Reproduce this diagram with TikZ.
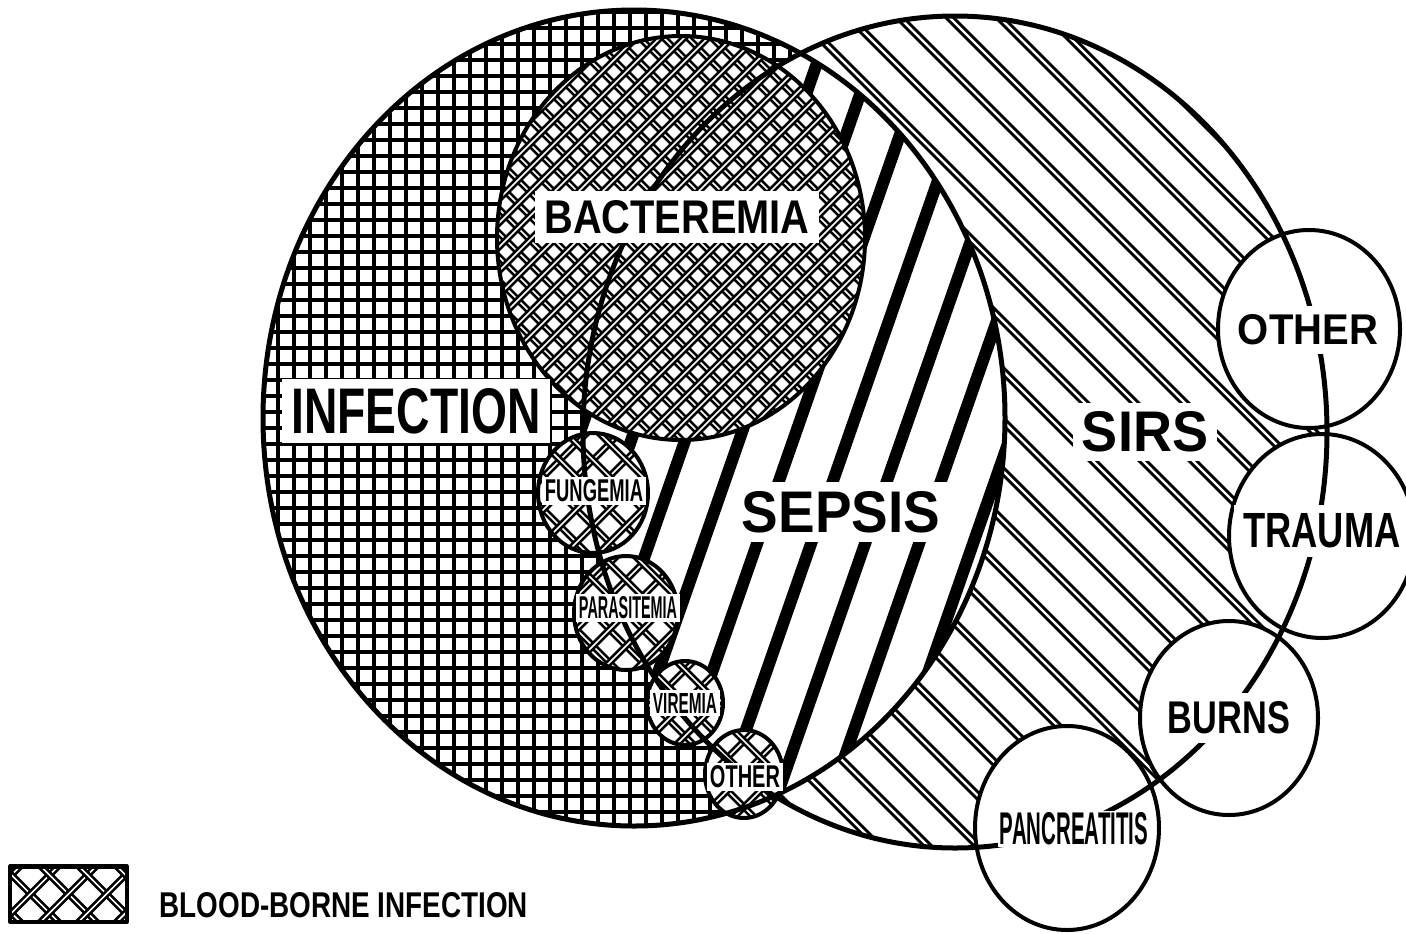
\documentclass[tikz,border=0pt]{standalone}
\usepackage{fontspec}
\setsansfont{Liberation Sans}
\usepackage{graphicx}
\usepackage{tikz}
\usetikzlibrary{positioning}
\tikzset{
  venn/.style={x=0.01cm, y=-0.01cm, line cap=round, line join=round},
  venn outline/.style={draw=black, line width=0.05cm},
  member outline/.style={draw=black, line width=0.04cm},
  grid line/.style={draw=black, line width=0.048cm},
  sepsis stripe/.style={draw=black, line width=0.12cm, line cap=butt},
  sirs pair/.style={draw=black, line width=0.03cm, double=white,
    double distance=0.022cm},
  blood pair/.style={draw=black, line width=0.026cm, double=white,
    double distance=0.017cm},
  venn label/.style={fill=white, inner sep=0.09cm, font=\sffamily\bfseries},
  small label/.style={venn label, inner sep=0.03cm}
}
% stretch a label to the size it has in the figure (width, height in cm)
\newcommand{\sizedtext}[3]{\resizebox{#1cm}{#2cm}{#3}}

\begin{document}
\begin{tikzpicture}[venn]
\useasboundingbox (0,0) rectangle (1406,933);
% SIRS: paired thin lines
\begin{scope}
  \clip (955,432) ellipse [x radius=372, y radius=416];
  \foreach \a in {-268,-218,...,1332}
    \draw[sirs pair] (\a,0) -- ++(900,900);
\end{scope}
% infection: square grid
\begin{scope}
  \clip (634,418) ellipse [x radius=371, y radius=408];
  \fill[white] (250,0) rectangle (1010,840);
  \foreach \gx in {262,278,...,1006}
    \draw[grid line] (\gx,0) -- (\gx,840);
  \foreach \gy in {12,28,...,828}
    \draw[grid line] (250,\gy) -- (1010,\gy);
\end{scope}
% sepsis: heavy stripes where both overlap
\begin{scope}
  \clip (634,418) ellipse [x radius=371, y radius=408];
  \clip (955,432) ellipse [x radius=372, y radius=416];
  \fill[white] (550,0) rectangle (1010,850);
  \foreach \sx in {272,326,...,1082}
    \draw[sepsis stripe] (\sx,850) -- ++(297,-850);
\end{scope}
% bacteremia: double crosshatch
\begin{scope}
  \clip (681,238) ellipse [x radius=184, y radius=202];
  \fill[white] (490,30) rectangle (870,445);
  \foreach \bx in {50,74,...,1310} {
    \draw[blood pair] (\bx,0) -- ++(460,460);
    \draw[blood pair] (\bx,0) -- ++(-460,460);
  }
\end{scope}
\draw[member outline] (681,238) ellipse [x radius=184, y radius=202];
% smaller blood-borne circles
\foreach \cx/\cy/\rx/\ry in {593/493/55/60, 626/613/52/57, 685/703/38/42, 744/774/39/44} {
  \begin{scope}
    \clip (\cx,\cy) ellipse [x radius=\rx, y radius=\ry];
    \fill[white] (\cx-70,\cy-70) rectangle (\cx+70,\cy+70);
    \foreach \k in {-5,...,5} {
      \draw[blood pair] (\cx+\k*33-80,\cy-80) -- ++(160,160);
      \draw[blood pair] (\cx+\k*33+80,\cy-80) -- ++(-160,160);
    }
  \end{scope}
  \draw[member outline] (\cx,\cy) ellipse [x radius=\rx, y radius=\ry];
}
% causes of SIRS
\foreach \cx/\cy/\rx/\ry in {1309/329/91/99, 1322/536/93/102, 1229/718/89/97, 1067/828/92/102}
  \fill[white] (\cx,\cy) ellipse [x radius=\rx, y radius=\ry];
\foreach \cx/\cy/\rx/\ry in {1309/329/91/99, 1322/536/93/102, 1229/718/89/97, 1067/828/92/102}
  \draw[member outline] (\cx,\cy) ellipse [x radius=\rx, y radius=\ry];
% the two main sets
\draw[venn outline] (634,418) ellipse [x radius=371, y radius=408];
\draw[venn outline] (955,432) ellipse [x radius=372, y radius=416];
% labels
\node[venn label] (infection) at (416,411) {\sizedtext{2.49}{0.45}{INFECTION}};
\node[venn label] (bacteremia) at (677,217) {\sizedtext{2.65}{0.33}{BACTEREMIA}};
\node[venn label] (sepsis) at (841,512) {\sizedtext{1.98}{0.41}{SEPSIS}};
\node[venn label] (sirs) at (1145,432) {\sizedtext{1.26}{0.40}{SIRS}};
\node[venn label] (other) at (1308,330) {\sizedtext{1.40}{0.30}{OTHER}};
\node[venn label] (trauma) at (1322,531) {\sizedtext{1.57}{0.34}{TRAUMA}};
\node[venn label] (burns) at (1229,718) {\sizedtext{1.22}{0.32}{BURNS}};
\node[venn label, inner sep=0.02cm] (pancreatitis) at (1074,829) {\sizedtext{1.48}{0.32}{PANCREATITIS}};
\node[small label] (fungemia) at (594,491) {\sizedtext{0.98}{0.22}{FUNGEMIA}};
\node[small label] (parasitemia) at (628,608) {\sizedtext{0.98}{0.22}{PARASITEMIA}};
\node[small label] (viremia) at (685,703) {\sizedtext{0.64}{0.20}{VIREMIA}};
\node[small label] (bloodother) at (745,777) {\sizedtext{0.70}{0.22}{OTHER}};
% legend
\node[member outline, minimum width=1.17cm, minimum height=0.55cm, inner sep=0pt,
  path picture={
    \foreach \k in {-4,...,4} {
      \draw[blood pair] ([xshift=\k*0.38cm]path picture bounding box.center)
        +(-0.6cm,0.6cm) -- +(0.6cm,-0.6cm);
      \draw[blood pair] ([xshift=\k*0.38cm]path picture bounding box.center)
        +(-0.6cm,-0.6cm) -- +(0.6cm,0.6cm);
    }
  }] (legendbox) at (68.5,894) {};
\node[font=\sffamily\bfseries, inner sep=0pt, right=0.3cm of legendbox, yshift=-0.11cm]
  (legendtext) {\sizedtext{3.68}{0.25}{BLOOD-BORNE INFECTION}};
\end{tikzpicture}
\end{document}
